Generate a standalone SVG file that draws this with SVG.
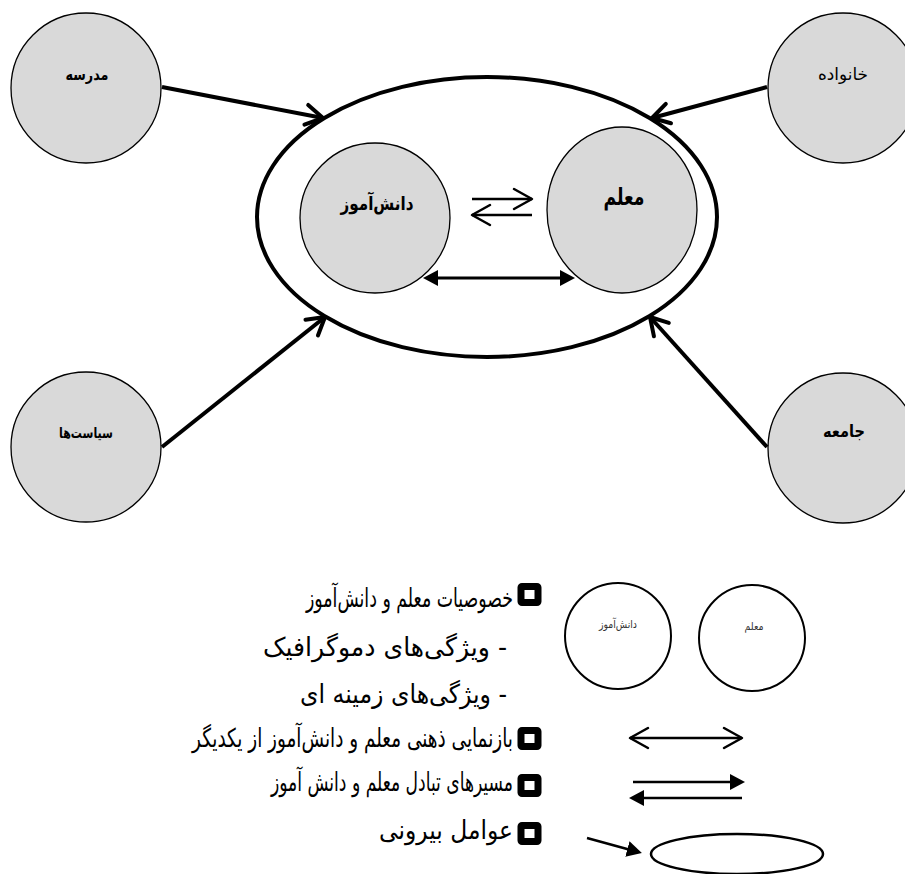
<svg xmlns="http://www.w3.org/2000/svg" width="905" height="874" viewBox="0 0 905 874">
<style>
.node{fill:#d9d9d9;stroke:#000;stroke-width:1.3}
.leg{fill:#fff;stroke:#000;stroke-width:2}
.lbl{font-family:"DejaVu Sans",sans-serif;fill:#000;text-anchor:middle}
.b{font-weight:bold}
.conn{stroke:#000;fill:none}
.big{stroke-width:4}
.mid{stroke-width:2.5}
.lt{font-family:"DejaVu Sans",sans-serif;font-size:26px;fill:#000;direction:rtl;text-anchor:start}
.bul{fill:#fff;stroke:#000;stroke-width:7}
</style>
<defs>
<marker id="ob" markerUnits="userSpaceOnUse" viewBox="-22 -13 26 26" markerWidth="26" markerHeight="26" refX="0" refY="0" orient="auto">
<path d="M-17,-10 L0,0 L-17,10" fill="none" stroke="#000" stroke-width="4" stroke-linecap="round" stroke-linejoin="round"/>
</marker>
<marker id="os" markerUnits="userSpaceOnUse" viewBox="-21 -12 24 24" markerWidth="24" markerHeight="24" refX="0" refY="0" orient="auto-start-reverse">
<path d="M-18,-10 L0,0 L-18,10" fill="none" stroke="#000" stroke-width="2.5" stroke-linecap="round" stroke-linejoin="round"/>
</marker>
<marker id="fh" markerUnits="userSpaceOnUse" viewBox="0 0 16 18" markerWidth="16" markerHeight="18" refX="11" refY="9" orient="auto-start-reverse">
<path d="M0,1 L15,9 L0,17 Z" fill="#000"/>
</marker>
</defs>

<g id="outer-ellipse"><ellipse cx="487" cy="217" rx="230" ry="140" fill="none" stroke="#000" stroke-width="4"/></g>

<g id="node-madrese"><circle class="node" cx="86" cy="88" r="75"/><text class="lbl b" x="87" y="80" font-size="16" textLength="43" lengthAdjust="spacingAndGlyphs">مدرسه</text></g>
<g id="node-khanevade"><circle class="node" cx="843" cy="88" r="75"/><text class="lbl" x="843" y="80" font-size="17" textLength="50" lengthAdjust="spacingAndGlyphs">خانواده</text></g>
<g id="node-siasatha"><circle class="node" cx="86" cy="447" r="75"/><text class="lbl b" x="86" y="438" font-size="15" textLength="54" lengthAdjust="spacingAndGlyphs">سیاست‌ها</text></g>
<g id="node-jamee"><circle class="node" cx="843" cy="448" r="75"/><text class="lbl b" x="844" y="437" font-size="17" textLength="42" lengthAdjust="spacingAndGlyphs">جامعه</text></g>
<g id="node-daneshamooz"><circle class="node" cx="375" cy="218" r="75"/><text class="lbl b" x="377" y="210" font-size="19" textLength="73" lengthAdjust="spacingAndGlyphs">دانش‌آموز</text></g>
<g id="node-moallem"><ellipse class="node" cx="622" cy="210" rx="75" ry="83"/><text class="lbl b" x="624" y="205" font-size="24" textLength="41" lengthAdjust="spacingAndGlyphs">معلم</text></g>

<g id="connectors">
<line class="conn big" x1="162" y1="87" x2="323" y2="118" marker-end="url(#ob)"/>
<line class="conn big" x1="767" y1="87" x2="652" y2="118" marker-end="url(#ob)"/>
<line class="conn big" x1="162" y1="447" x2="325" y2="317" marker-end="url(#ob)"/>
<line class="conn big" x1="767" y1="447" x2="650" y2="317" marker-end="url(#ob)"/>
<line class="conn mid" x1="472" y1="199" x2="532" y2="199" marker-end="url(#os)"/>
<line class="conn mid" x1="532" y1="215" x2="472" y2="215" marker-end="url(#os)"/>
<line class="conn" stroke-width="3" x1="427" y1="278" x2="571" y2="278" marker-start="url(#fh)" marker-end="url(#fh)"/>
</g>

<g id="legend">
<g id="legend-circles">
<circle class="leg" cx="618" cy="636" r="53"/>
<text class="lbl" x="618" y="628" font-size="11" style="fill:#333" textLength="38" lengthAdjust="spacingAndGlyphs">دانش‌آموز</text>
<circle class="leg" cx="752" cy="638" r="53"/>
<text class="lbl" x="754" y="630" font-size="11" style="fill:#333" textLength="19" lengthAdjust="spacingAndGlyphs">معلم</text>
</g>
<g id="legend-arrows">
<line class="conn mid" x1="630" y1="738" x2="742" y2="738" marker-start="url(#os)" marker-end="url(#os)"/>
<line class="conn mid" x1="633" y1="782" x2="741" y2="782" marker-end="url(#fh)"/>
<line class="conn mid" x1="742" y1="798" x2="633" y2="798" marker-end="url(#fh)"/>
<line class="conn mid" x1="587" y1="838" x2="638" y2="852" marker-end="url(#fh)"/>
<ellipse cx="737" cy="854" rx="86" ry="20" fill="none" stroke="#000" stroke-width="2.5"/>
</g>
<g id="legend-bullets">
<rect class="bul" x="521" y="586.5" width="17" height="16" rx="1"/>
<rect class="bul" x="521" y="730.5" width="17" height="16" rx="1"/>
<rect class="bul" x="521" y="777.5" width="17" height="16" rx="1"/>
<rect class="bul" x="521" y="825.5" width="17" height="16" rx="1"/>
</g>
<g id="legend-text">
<text class="lt" x="513" y="607" textLength="207" lengthAdjust="spacingAndGlyphs">خصوصیات معلم و دانش‌آموز</text>
<text class="lt" x="507" y="656" textLength="244" lengthAdjust="spacingAndGlyphs">- ویژگی‌های دموگرافیک</text>
<text class="lt" x="507" y="703" textLength="207" lengthAdjust="spacingAndGlyphs">- ویژگی‌های زمینه ای</text>
<text class="lt" x="513" y="747" textLength="321" lengthAdjust="spacingAndGlyphs">بازنمایی ذهنی معلم و دانش‌آموز از یکدیگر</text>
<text class="lt" x="513" y="791" textLength="242" lengthAdjust="spacingAndGlyphs">مسیرهای تبادل معلم و دانش آموز</text>
<text class="lt" x="513" y="839" textLength="134" lengthAdjust="spacingAndGlyphs">عوامل بیرونی</text>
</g>
</g>
</svg>
